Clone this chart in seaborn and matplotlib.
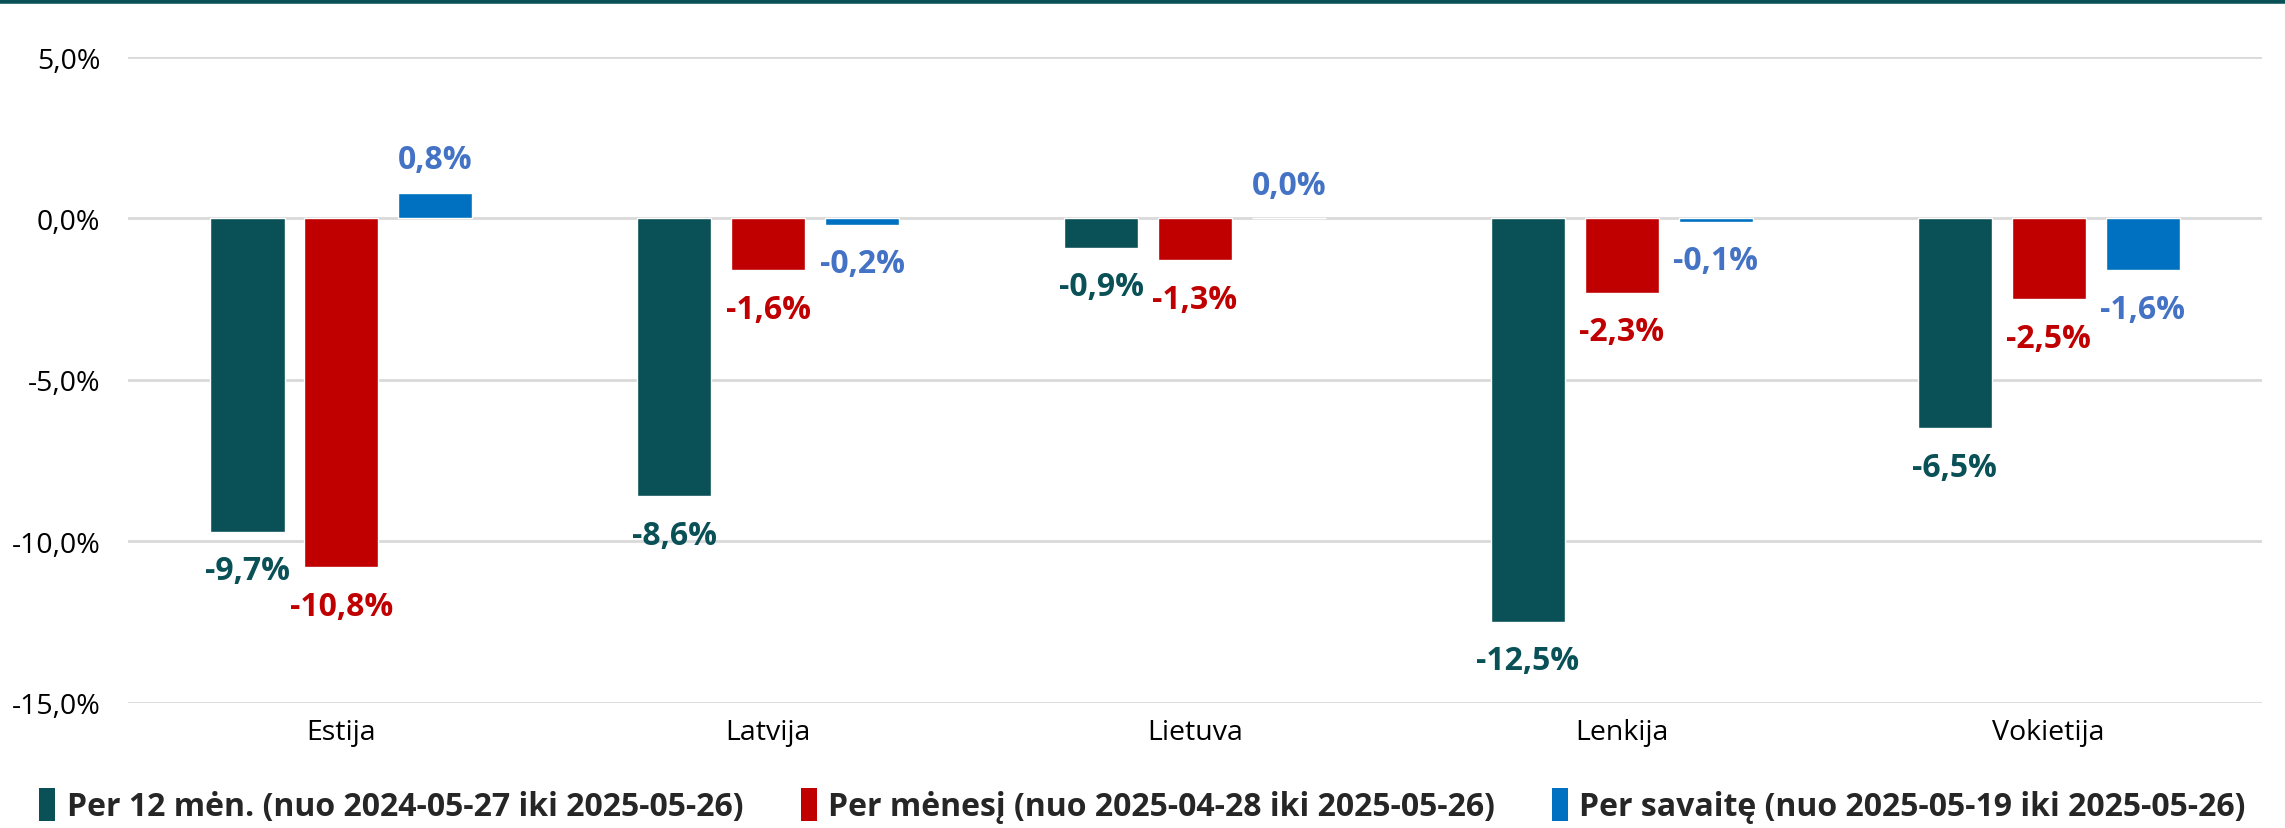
import pandas as pd
import numpy as np
import seaborn as sns
import matplotlib.pyplot as plt
from matplotlib.lines import Line2D
from matplotlib.patches import Patch

# data
countries = ["Estija", "Latvija", "Lietuva", "Lenkija", "Vokietija"]
series = [
    "Per 12 mėn. (nuo 2024-05-27 iki 2025-05-26)",
    "Per mėnesį (nuo 2025-04-28 iki 2025-05-26)",
    "Per savaitę (nuo 2025-05-19 iki 2025-05-26)",
]
year_vals = [-9.7, -8.6, -0.9, -12.5, -6.5]
month_vals = [-10.8, -1.6, -1.3, -2.3, -2.5]
week_vals = [0.8, -0.2, 0.0, -0.1, -1.6]

bar_colors = ["#0A5157", "#C00000", "#0070C0"]
label_colors = ["#0A5157", "#C00000", "#4472C4"]

df = pd.DataFrame({
    "country": countries * 3,
    "series": [series[0]] * 5 + [series[1]] * 5 + [series[2]] * 5,
    "value": year_vals + month_vals + week_vals,
})

sns.set_theme(style="white")
plt.rcParams["font.family"] = ["Open Sans", "DejaVu Sans"]

fig = plt.figure(figsize=(22.85, 8.29), dpi=100)
ax = fig.add_axes([0.056, 0.151, 0.934, 0.779])

sns.barplot(data=df, x="country", y="value", hue="series", palette=bar_colors,
            width=0.66, gap=0.21, ax=ax, legend=False, saturation=1)

ax.set_ylim(-15, 5)
ax.set_yticks([5, 0, -5, -10, -15])
ax.set_yticklabels([f"{t:.1f}%".replace(".", ",") for t in [5, 0, -5, -10, -15]])
ax.yaxis.grid(True, color="#D9D9D9", linewidth=2)
ax.set_axisbelow(True)
for s in ax.spines.values():
    s.set_visible(False)
ax.set_xlabel("")
ax.set_ylabel("")
ax.tick_params(axis="both", length=0, labelsize=20.5, colors="black")
ax.tick_params(axis="x", pad=11)
ax.tick_params(axis="y", pad=20)

# value labels
for i, cont in enumerate(ax.containers):
    for bar in cont:
        v = bar.get_height()
        x = bar.get_x() + bar.get_width() / 2
        txt = f"{v:.1f}%".replace(".", ",")
        off = -28 if v < 0 else 24
        ax.annotate(txt, (x, v), xytext=(0, off), textcoords="offset points",
                    ha="center", va="center", fontsize=23, fontweight="bold",
                    color=label_colors[i])

# top rule
fig.add_artist(Line2D([0, 1], [0.998, 0.998], color="#0A5157", linewidth=4,
                      transform=fig.transFigure))

handles = [Patch(facecolor=c, edgecolor="none") for c in bar_colors]
fig.legend(handles, series, loc="center", bbox_to_anchor=(0.5, 0.027), ncol=3,
           frameon=False, prop={"size": 23, "weight": "bold"},
           handlelength=0.5, handleheight=1.2, handletextpad=0.35, columnspacing=1.8)

fig.savefig("out.png", dpi=100)
